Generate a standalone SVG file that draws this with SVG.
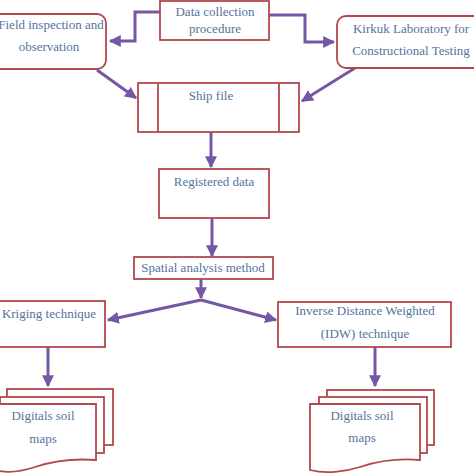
<svg xmlns="http://www.w3.org/2000/svg" width="474" height="474" viewBox="0 0 474 474">
<defs>
<marker id="ah" viewBox="0 0 10 10" refX="9" refY="5" markerWidth="4" markerHeight="4" orient="auto" markerUnits="strokeWidth">
<path d="M0,0 L10,5 L0,10 z" fill="#7458a4"/>
</marker>
<style>
.b{fill:#fff;stroke:#b4474c;stroke-width:1.8}
.t{font-family:'Liberation Serif','Times New Roman','DejaVu Serif',serif;font-size:13px;fill:#55739c;text-anchor:middle}
.c{fill:none;stroke:#7458a4;stroke-width:3;marker-end:url(#ah)}
</style>
</defs>
<rect width="474" height="474" fill="#fff"/>
<g id="connectors">
<path class="c" d="M163,12 H135 V41 H110"/>
<path class="c" d="M269,15 H305 V42 H334"/>
<path class="c" d="M97,70 L136,98"/>
<path class="c" d="M355,68 L302,101"/>
<path class="c" d="M211,132 V167"/>
<path class="c" d="M212,218 V256"/>
<path class="c" d="M201,279 V298"/>
<path class="c" d="M201,300 L108,320"/>
<path class="c" d="M201,300 L276,320"/>
<path class="c" d="M48,347 V386"/>
<path class="c" d="M375,347 V386"/>
</g>
<g id="data-collection">
<rect class="b" x="160" y="1" width="109" height="39"/>
<text class="t" x="215" y="16">Data collection</text>
<text class="t" x="215" y="33">procedure</text>
</g>
<g id="field-inspection">
<rect class="b" x="-20" y="14" width="126" height="55" rx="9"/>
<text class="t" x="51" y="29">Field inspection and</text>
<text class="t" x="49" y="51">observation</text>
</g>
<g id="kirkuk">
<rect class="b" x="337" y="16" width="150" height="52" rx="9"/>
<text class="t" x="411" y="33">Kirkuk Laboratory for</text>
<text class="t" x="411" y="55">Constructional Testing</text>
</g>
<g id="ship-file">
<rect class="b" x="138" y="83" width="161" height="49"/>
<line class="b" x1="158" y1="83" x2="158" y2="132"/>
<line class="b" x1="279" y1="83" x2="279" y2="132"/>
<text class="t" x="211" y="100">Ship file</text>
</g>
<g id="registered-data">
<rect class="b" x="159" y="169" width="110" height="49"/>
<text class="t" x="214" y="186">Registered data</text>
</g>
<g id="spatial-analysis">
<rect class="b" x="134" y="257" width="139" height="22"/>
<text class="t" x="203" y="272">Spatial analysis method</text>
</g>
<g id="kriging">
<rect class="b" x="-20" y="301" width="125" height="46"/>
<text class="t" x="49" y="318">Kriging technique</text>
</g>
<g id="idw">
<rect class="b" x="278" y="302" width="173" height="45"/>
<text class="t" x="365" y="315">Inverse Distance Weighted</text>
<text class="t" x="365" y="338">(IDW) technique</text>
</g>
<g id="maps-kriging">
<rect class="b" x="7" y="389" width="106" height="56"/>
<rect class="b" x="0" y="397" width="104" height="56"/>
<path class="b" d="M-5,404 H96 V460 C70,458 50,462 35,467 C20,472 5,473 -5,470 Z"/>
<text class="t" x="43" y="420">Digitals soil</text>
<text class="t" x="43" y="443">maps</text>
</g>
<g id="maps-idw">
<rect class="b" x="327" y="390" width="107" height="55"/>
<rect class="b" x="319" y="397" width="108" height="56"/>
<path class="b" d="M310,404 H420 V460 C395,458 375,462 360,467 C345,472 325,474 310,470 Z"/>
<text class="t" x="362" y="420">Digitals soil</text>
<text class="t" x="362" y="442">maps</text>
</g>
</svg>
